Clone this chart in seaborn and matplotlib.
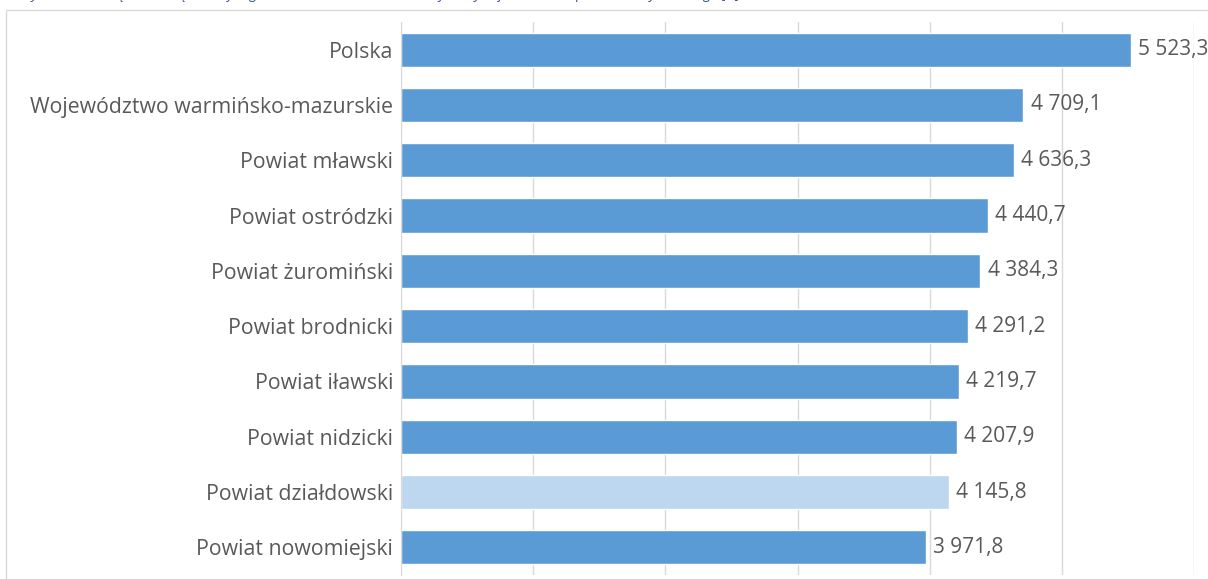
import matplotlib
matplotlib.use("Agg")
import matplotlib.pyplot as plt
import seaborn as sns
import pandas as pd
from matplotlib.patches import Rectangle

# data
kategorie = ["Polska", "Województwo warmińsko-mazurskie", "Powiat mławski",
             "Powiat ostródzki", "Powiat żuromiński", "Powiat brodnicki",
             "Powiat iławski", "Powiat nidzicki", "Powiat działdowski",
             "Powiat nowomiejski"]
wartosci = [5523.3, 4709.1, 4636.3, 4440.7, 4384.3, 4291.2, 4219.7, 4207.9,
            4145.8, 3971.8]
kolory = ["#5b9bd5"] * 8 + ["#bdd7ee", "#5b9bd5"]
podpis = ("Wykres 9. Przeciętne miesięczne wynagrodzenie brutto w 2022 r. "
          "w wybranych jednostkach podziału terytorialnego [zł]")

df = pd.DataFrame({"kat": kategorie, "val": wartosci})

sns.set_style("white")
plt.rcParams["font.family"] = ["Open Sans", "DejaVu Sans"]

W, H = 1208, 579
fig = plt.figure(figsize=(W / 100, H / 100), dpi=100)
ax = fig.add_axes([401 / W, 1 - 575 / H, (1194 - 401) / W, (575 - 22) / H])

sns.barplot(data=df, x="val", y="kat", hue="kat", palette=kolory,
            legend=False, orient="h", width=0.62, saturation=1, ax=ax)

ax.set_xlim(0, 6000)
ax.set_xticks(range(0, 7000, 1000))
ax.set_xticklabels([])
ax.tick_params(axis="x", length=0)
ax.tick_params(axis="y", length=0, labelsize=15.3, labelcolor="#595959", pad=5.5)
ax.grid(axis="x", color="#d9d9d9", lw=1)
ax.set_axisbelow(True)
ax.set_xlabel("")
ax.set_ylabel("")
for s in ["top", "right", "bottom"]:
    ax.spines[s].set_visible(False)
ax.spines["left"].set_color("#d9d9d9")

def fmt(v):
    s = f"{v:,.1f}".replace(",", " ").replace(".", ",")
    return s

for i, v in enumerate(wartosci):
    ax.text(v + 55, i, fmt(v), va="center", ha="left", fontsize=15,
            color="#595959", clip_on=False)

# chart frame, cut by the image edge
fig.patches.append(Rectangle((6 / W, -0.1), 1.2, 1 - 10 / H + 0.1,
                             transform=fig.transFigure, fill=False,
                             ec="#d9d9d9", lw=1))

# caption above the chart, mostly cut off like in the source
fig.text(20 / W, 1 + 2 / H, podpis, ha="left", va="baseline", fontsize=10,
         style="italic", color="#2f5597")

fig.savefig("out.png", dpi=100)
